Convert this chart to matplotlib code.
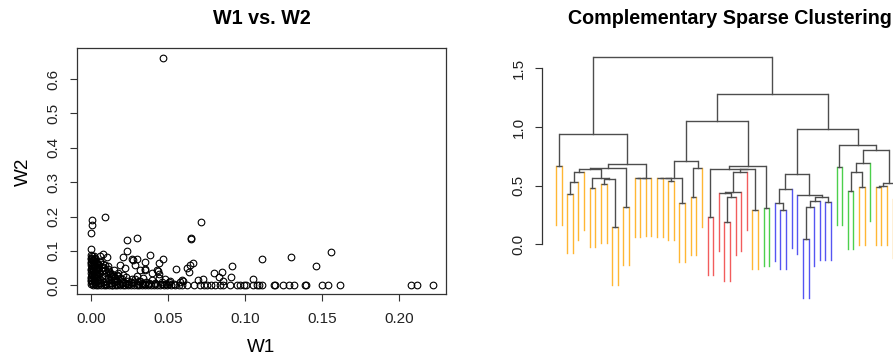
import matplotlib.pyplot as plt

plt.rcParams['font.family'] = ['Liberation Sans', 'DejaVu Sans']

# ---- W1 vs. W2 scatter ----
# points away from the dense corner
spread_w1 = [0.0467, 0.0006, 0.0008, 0.0000, 0.0093, 0.0715, 0.0650, 0.0652, 0.0237, 0.0298,
             0.0000, 0.0233, 0.1110, 0.1300, 0.1556, 0.1460, 0.0914, 0.0910, 0.0850, 0.0800,
             0.0830, 0.1050, 0.0666, 0.0644, 0.0627, 0.0553, 0.0640, 0.0470, 0.0443, 0.0385,
             0.0698, 0.0726, 0.0600, 0.0860, 0.0060, 0.0080, 0.0104, 0.0040, 0.0210, 0.0266,
             0.0300, 0.0350, 0.0190, 0.0320, 0.0352, 0.0438, 0.0445, 0.0480, 0.0220, 0.0277,
             0.0287, 0.0350, 0.0396, 0.0428, 0.0515, 0.0580, 0.0590, 0.0125, 0.0169, 0.0147]
spread_w2 = [0.662, 0.191, 0.176, 0.152, 0.198, 0.183, 0.138, 0.135, 0.133, 0.136,
             0.104, 0.099, 0.077, 0.082, 0.097, 0.055, 0.055, 0.024, 0.039, 0.036,
             0.024, 0.019, 0.066, 0.060, 0.051, 0.046, 0.038, 0.077, 0.065, 0.089,
             0.015, 0.019, 0.012, 0.012, 0.085, 0.090, 0.083, 0.065, 0.082, 0.075,
             0.075, 0.068, 0.060, 0.043, 0.043, 0.041, 0.034, 0.017, 0.050, 0.0745,
             0.060, 0.047, 0.036, 0.045, 0.012, 0.009, 0.016, 0.036, 0.031, 0.026]

# points lying on W2 ~ 0
axis_w1 = [0.0015, 0.0035, 0.0050, 0.0068, 0.0085, 0.0102, 0.0120, 0.0138, 0.0155, 0.0172,
           0.0190, 0.0208, 0.0225, 0.0243, 0.0260, 0.0278, 0.0297, 0.0315, 0.0333, 0.0352,
           0.0370, 0.0390, 0.0410, 0.0430, 0.0452, 0.0475, 0.0498, 0.0520, 0.0545, 0.0570,
           0.0595, 0.0623, 0.0672, 0.0709, 0.0735, 0.0752, 0.0778, 0.0806, 0.0839, 0.0856,
           0.0904, 0.0947, 0.0968, 0.0997, 0.1005, 0.1055, 0.1077, 0.1094, 0.1113, 0.1189,
           0.1198, 0.1249, 0.1286, 0.1319, 0.1390, 0.1396, 0.1500, 0.1541, 0.1617, 0.2077,
           0.2114, 0.2218, 0.0025, 0.0060, 0.0095, 0.0130, 0.0165, 0.0200, 0.0235, 0.0270,
           0.0305, 0.0340, 0.0380, 0.0420, 0.0465, 0.0510]
axis_w2 = [0.000, 0.000, 0.000, 0.000, 0.000, 0.000, 0.000, 0.000, 0.000, 0.000,
           0.000, 0.000, 0.000, 0.000, 0.000, 0.000, 0.000, 0.000, 0.000, 0.000,
           0.000, 0.000, 0.000, 0.000, 0.000, 0.000, 0.000, 0.000, 0.000, 0.000,
           0.000, 0.000, 0.000, 0.000, 0.000, 0.002, 0.000, 0.000, 0.000, 0.000,
           0.000, 0.000, 0.000, 0.000, 0.000, 0.000, 0.000, 0.000, 0.000, 0.000,
           0.000, 0.000, 0.000, 0.000, 0.000, 0.000, 0.000, 0.000, 0.000, 0.000,
           0.000, 0.000, 0.004, 0.006, 0.003, 0.005, 0.004, 0.006, 0.003, 0.005,
           0.004, 0.003, 0.005, 0.003, 0.004, 0.003]

# points stacked on W1 ~ 0
column_w1 = [0.0000, 0.0010, 0.0005, 0.0000, 0.0012, 0.0004, 0.0000, 0.0010, 0.0006, 0.0000,
             0.0012, 0.0004, 0.0000, 0.0010, 0.0006, 0.0000, 0.0012, 0.0004, 0.0000, 0.0010,
             0.0005, 0.0000, 0.0008, 0.0003, 0.0025, 0.0030, 0.0022, 0.0035, 0.0028, 0.0032,
             0.0024, 0.0036, 0.0030, 0.0026, 0.0018, 0.0020, 0.0016, 0.0021, 0.0017, 0.0019,
             0.0045, 0.0050, 0.0042, 0.0055, 0.0048, 0.0052, 0.0046, 0.0058]
column_w2 = [0.003, 0.007, 0.011, 0.014, 0.018, 0.022, 0.025, 0.029, 0.033, 0.036,
             0.040, 0.044, 0.047, 0.051, 0.055, 0.058, 0.062, 0.066, 0.069, 0.073,
             0.077, 0.080, 0.084, 0.088, 0.008, 0.016, 0.024, 0.032, 0.040, 0.048,
             0.056, 0.064, 0.070, 0.078, 0.012, 0.028, 0.044, 0.060, 0.074, 0.086,
             0.006, 0.015, 0.026, 0.035, 0.046, 0.054, 0.062, 0.071]

# the crowded corner next to the origin
corner_w1 = [0.004, 0.005, 0.006, 0.007, 0.008, 0.009, 0.010, 0.011, 0.012, 0.013,
             0.014, 0.015, 0.016, 0.017, 0.018, 0.019, 0.020, 0.021, 0.023, 0.024,
             0.025, 0.027, 0.028, 0.030, 0.031, 0.033, 0.034, 0.036, 0.038, 0.040,
             0.042, 0.044, 0.046, 0.049, 0.051, 0.054, 0.003, 0.005, 0.007, 0.009,
             0.012, 0.015, 0.002, 0.003, 0.004, 0.006, 0.010, 0.014, 0.008, 0.011,
             0.007, 0.010, 0.013, 0.016, 0.019, 0.022, 0.026, 0.029, 0.032, 0.035,
             0.009, 0.012, 0.015, 0.018, 0.021, 0.006, 0.008, 0.011]
corner_w2 = [0.045, 0.030, 0.018, 0.040, 0.010, 0.028, 0.036, 0.020, 0.006, 0.015,
             0.032, 0.008, 0.022, 0.012, 0.028, 0.004, 0.018, 0.009, 0.024, 0.013,
             0.004, 0.017, 0.008, 0.028, 0.012, 0.005, 0.020, 0.010, 0.004, 0.014,
             0.006, 0.022, 0.010, 0.004, 0.008, 0.003, 0.055, 0.060, 0.050, 0.045,
             0.040, 0.045, 0.075, 0.035, 0.020, 0.005, 0.003, 0.002, 0.052, 0.048,
             0.026, 0.012, 0.026, 0.014, 0.021, 0.006, 0.010, 0.019, 0.013, 0.004,
             0.058, 0.034, 0.027, 0.036, 0.030, 0.068, 0.063, 0.057]

# ---- Complementary sparse clustering dendrogram ----
# R hclust style merges: negative = leaf (in plotted order), positive = earlier merge
merge_left = [-1, -3, 2, 3, -7, -9, -11, 6, 5, 4, -13, 10, -15, 13, 14, 12, 1,
              -19, -21, 18, -23, 20, -25, 23, 22, -28, -31, 27, -30, 29, 30, -36, 31, 26,
              -38, 34, 25,
              -41, -40, 39, -45, 41, 42, -49, 43, -44, 40, -51, -53, -55, 49, 51, -58, 53,
              -61, 54, 52, 48, 47, 37, 17]
merge_right = [-2, -4, -5, -6, -8, -10, -12, 7, 8, 9, -14, 11, -16, -17, -18, 15, 16,
               -20, -22, 19, -24, 21, -26, -27, 24, -29, -32, -33, 28, -34, -35, -37, 32, 33,
               -39, 35, 36,
               -42, 38, -43, -46, -47, -48, -50, 44, 45, 46, -52, -54, -56, 50, -57, -59, -60,
               -62, 55, 56, 57, 58, 59, 60]
merge_height = [0.667, 0.426, 0.534, 0.619, 0.477, 0.512, 0.150, 0.560, 0.563, 0.645,
                0.321, 0.648, 0.566, 0.567, 0.568, 0.682, 0.940,
                0.566, 0.540, 0.567, 0.350, 0.568, 0.406, 0.648, 0.710, 0.235, 0.187,
                0.406, 0.440, 0.445, 0.619, 0.292, 0.641, 0.642, 0.312, 0.667, 1.051,
                0.292, 0.355, 0.469, 0.043, 0.315, 0.369, 0.363, 0.406, 0.420, 0.602,
                0.662, 0.457, 0.491, 0.614, 0.696, 0.491, 0.495, 0.384, 0.525, 0.804,
                0.847, 0.983, 1.279, 1.594]
leaf_colors = (['#FFB733'] * 27 + ['#F25C5C'] * 8 + ['#FFB733'] * 2 + ['#4CD04C'] * 2
               + ['#5555F2'] * 11 + ['#4CD04C'] * 4 + ['#FFB733'] * 2 + ['#4CD04C']
               + ['#FFB733'] * 5)
hang = 0.5
edge_color = '#4d4d4d'

fig = plt.figure(figsize=(8.93, 3.6), dpi=100)

# left panel
ax1 = fig.add_axes([76.7 / 893, 65.7 / 360, 369.3 / 893, 246 / 360])
for xs, ys in [(spread_w1, spread_w2), (axis_w1, axis_w2), (column_w1, column_w2),
               (corner_w1, corner_w2)]:
    ax1.plot(xs, ys, 'o', mfc='none', mec='black', ms=4.8, mew=0.8)
ax1.set_xlim(-0.0091, 0.2305)
ax1.set_ylim(-0.0265, 0.6898)
ax1.set_xticks([0, 0.05, 0.10, 0.15, 0.20])
ax1.set_xticklabels(['0.00', '0.05', '0.10', '0.15', '0.20'])
ax1.set_yticks([0, 0.1, 0.2, 0.3, 0.4, 0.5, 0.6])
ax1.set_yticklabels(['0.0', '0.1', '0.2', '0.3', '0.4', '0.5', '0.6'],
                    rotation=90, va='center')
ax1.tick_params(length=5, width=0.8, color='#333333', labelcolor='#222222',
                labelsize=11, pad=7)
ax1.tick_params(axis='x', pad=8)
for s in ax1.spines.values():
    s.set_color('#333333')
    s.set_linewidth(0.9)
ax1.set_xlabel('W1', fontsize=13.6, labelpad=9)
ax1.set_ylabel('W2', fontsize=13.6, labelpad=10)
fig.text(261.4 / 893, 1 - 18 / 360, 'W1 vs. W2', ha='center', va='center',
         fontsize=14.2, fontweight='bold')

# right panel (runs off the right edge like the original)
ax2 = fig.add_axes([542.3 / 893, 0, 350.7 / 893, 311.7 / 360])
node_x, node_h = {}, {}
for k, (a, b, h) in enumerate(zip(merge_left, merge_right, merge_height), start=1):
    xs = []
    for c in (a, b):
        if c < 0:
            x = -c
            ax2.plot([x, x], [h, h - hang], color=leaf_colors[-c - 1], lw=1.0)
        else:
            x = node_x[c]
            ax2.plot([x, x], [h, node_h[c]], color=edge_color, lw=1.0)
        xs.append(x)
    ax2.plot(xs, [h, h], color=edge_color, lw=1.0, solid_capstyle='butt')
    node_x[k] = sum(xs) / 2
    node_h[k] = h

ax2.set_xlim(-1.441, 61.05)
ax2.set_ylim(-0.986, 1.671)
ax2.set_xticks([])
ax2.set_yticks([0, 0.5, 1.0, 1.5])
ax2.set_yticklabels(['0.0', '0.5', '1.0', '1.5'], rotation=90, va='center')
ax2.tick_params(length=5, width=0.8, color='#333333', labelcolor='#222222',
                labelsize=11, pad=7)
for side in ['top', 'right', 'bottom']:
    ax2.spines[side].set_visible(False)
ax2.spines['left'].set_bounds(0, 1.5)
ax2.spines['left'].set_color('#333333')
ax2.spines['left'].set_linewidth(0.9)
ax2.patch.set_visible(False)
fig.text(729.5 / 893, 1 - 18 / 360, 'Complementary Sparse Clustering', ha='center',
         va='center', fontsize=14.2, fontweight='bold')

fig.savefig('out.png', dpi=100)
